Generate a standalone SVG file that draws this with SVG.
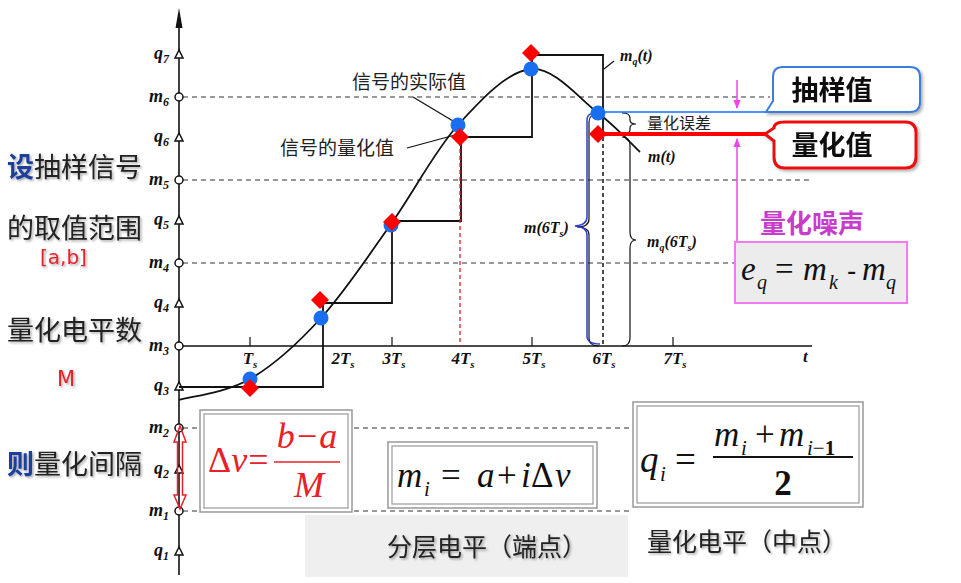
<svg xmlns="http://www.w3.org/2000/svg" width="961" height="583" viewBox="0 0 961 583">
<defs>
<filter id="sh" x="-10%" y="-20%" width="130%" height="160%"><feDropShadow dx="1.5" dy="1.5" stdDeviation="1" flood-color="#000" flood-opacity="0.35"/></filter>
<filter id="bsh" x="-10%" y="-20%" width="130%" height="160%"><feDropShadow dx="2" dy="2" stdDeviation="1.5" flood-color="#000" flood-opacity="0.3"/></filter>
<marker id="pk" viewBox="0 0 10 10" refX="9" refY="5" markerWidth="6" markerHeight="6" orient="auto"><path d="M0,1 L10,5 L0,9 Z" fill="#ee44ee"/></marker>
</defs>
<style>
.ax{stroke:#111;stroke-width:1.6;fill:none}
.dash{stroke:#333;stroke-width:1.2;stroke-dasharray:5 4;fill:none}
.ln{stroke:#111;stroke-width:1.8;fill:none}
.thin{stroke:#111;stroke-width:1.2;fill:none}
.mk{fill:#fff;stroke:#111;stroke-width:1.5}
.al{font-family:"Liberation Serif",serif;font-style:italic;font-weight:bold;font-size:18px;fill:#111}
.tl{font-family:"Liberation Serif",serif;font-style:italic;font-weight:bold;font-size:17px;fill:#111}
.ml{font-family:"Liberation Serif",serif;font-style:italic;font-weight:bold;font-size:16px;fill:#111}
.cn{font-family:"Noto Sans CJK SC",sans-serif;fill:#222}
.big{font-family:"Noto Sans CJK SC",sans-serif;font-size:27px;fill:#222}
.math{font-family:"Liberation Serif",serif;font-style:italic}
.blue{fill:#1a6ef0}
.red{fill:#ff0000}
.frame{fill:#fff;stroke:#999;stroke-width:1.5}
.inner{fill:none;stroke:#999;stroke-width:1.2}
</style>

<!-- left description -->
<g id="left-text" filter="url(#sh)">
<text class="big" x="7" y="177"><tspan fill="#1f3f99" font-weight="bold">设</tspan>抽样信号</text>
<text class="big" x="7" y="238">的取值范围</text>
<text x="40" y="264" font-family="DejaVu Sans,sans-serif" font-size="20" fill="#e8202a">[a,b]</text>
<text class="big" x="7" y="340">量化电平数</text>
<text x="57" y="386" font-family="DejaVu Sans,sans-serif" font-size="21" fill="#e8202a">M</text>
<text class="big" x="7" y="474"><tspan fill="#1f3f99" font-weight="bold">则</tspan>量化间隔</text>
</g>

<!-- gray band -->
<rect x="305" y="515" width="323" height="62" fill="#efefef"/>

<!-- dashed level lines -->
<g id="levels">
<line class="dash" x1="183" y1="97" x2="770" y2="97"/>
<line class="dash" x1="183" y1="180" x2="810" y2="180"/>
<line class="dash" x1="183" y1="263" x2="735" y2="263"/>
<line class="dash" x1="183" y1="428" x2="633" y2="428"/>
<line class="dash" x1="183" y1="511" x2="633" y2="511"/>
</g>

<!-- axes -->
<g id="axes">
<line class="ax" x1="179" y1="575" x2="179" y2="22"/>
<polygon points="179,8 175.5,28 182.5,28" fill="#111"/>
<line class="ax" x1="179" y1="346" x2="812" y2="346"/>
<text x="803" y="362" class="tl" font-weight="normal">t</text>
<g class="thin">
<line x1="250" y1="337" x2="250" y2="346"/>
<line x1="392" y1="337" x2="392" y2="346"/>
<line x1="532" y1="337" x2="532" y2="346"/>
<line x1="673" y1="337" x2="673" y2="346"/>
</g>
<text class="tl" x="250" y="364" text-anchor="middle">T<tspan font-size="11" dy="4">s</tspan></text>
<text class="tl" x="343" y="364" text-anchor="middle">2T<tspan font-size="11" dy="4">s</tspan></text>
<text class="tl" x="394" y="364" text-anchor="middle">3T<tspan font-size="11" dy="4">s</tspan></text>
<text class="tl" x="463" y="364" text-anchor="middle">4T<tspan font-size="11" dy="4">s</tspan></text>
<text class="tl" x="534" y="364" text-anchor="middle">5T<tspan font-size="11" dy="4">s</tspan></text>
<text class="tl" x="604" y="364" text-anchor="middle">6T<tspan font-size="11" dy="4">s</tspan></text>
<text class="tl" x="675" y="364" text-anchor="middle">7T<tspan font-size="11" dy="4">s</tspan></text>
</g>

<!-- axis level markers and labels -->
<g id="axis-marks">
<polygon class="mk" points="179,50 175,58 183,58"/>
<polygon class="mk" points="179,133 175,141 183,141"/>
<polygon class="mk" points="179,216 175,224 183,224"/>
<polygon class="mk" points="179,299 175,307 183,307"/>
<polygon class="mk" points="179,382 175,390 183,390"/>
<polygon class="mk" points="179,465 175,473 183,473"/>
<polygon class="mk" points="179,547 175,555 183,555"/>
<circle class="mk" cx="179" cy="97" r="4"/>
<circle class="mk" cx="179" cy="180" r="4"/>
<circle class="mk" cx="179" cy="263" r="4"/>
<circle class="mk" cx="179" cy="346" r="4"/>
<circle class="mk" cx="179" cy="428" r="4"/>
<circle class="mk" cx="179" cy="511" r="4"/>
<g class="al" text-anchor="end">
<text x="169" y="59">q<tspan font-size="12" dy="4">7</tspan></text>
<text x="169" y="102">m<tspan font-size="12" dy="4">6</tspan></text>
<text x="169" y="142">q<tspan font-size="12" dy="4">6</tspan></text>
<text x="169" y="185">m<tspan font-size="12" dy="4">5</tspan></text>
<text x="169" y="225">q<tspan font-size="12" dy="4">5</tspan></text>
<text x="169" y="268">m<tspan font-size="12" dy="4">4</tspan></text>
<text x="169" y="308">q<tspan font-size="12" dy="4">4</tspan></text>
<text x="169" y="351">m<tspan font-size="12" dy="4">3</tspan></text>
<text x="169" y="391">q<tspan font-size="12" dy="4">3</tspan></text>
<text x="169" y="433">m<tspan font-size="12" dy="4">2</tspan></text>
<text x="169" y="474">q<tspan font-size="12" dy="4">2</tspan></text>
<text x="169" y="516">m<tspan font-size="12" dy="4">1</tspan></text>
<text x="169" y="556">q<tspan font-size="12" dy="4">1</tspan></text>
</g>
</g>

<!-- red double arrow for interval -->
<g id="interval-arrow">
<path d="M180,426 L186,442 L182.5,442 L182.5,495 L186,495 L180,509 L174,495 L177.5,495 L177.5,442 L174,442 Z" fill="none" stroke="#e8202a" stroke-width="1.5"/>
</g>

<!-- signal and staircase -->
<g id="connectors">
<path class="ln" d="M179,400 C190.8,396.5 226.3,392.7 250,379 C273.7,365.3 297.5,343.8 321,318 C344.5,292.2 368.2,256.2 391,224 C413.8,191.8 434.7,150.8 458,125 C481.3,99.2 507.7,71 531,69 C554.3,67 579.8,99.2 598,113 C616.2,126.8 633,145.5 640,152"/>
<path class="ln" d="M179,387 H323 V303 H392 V221 H461 V137 H532 V55 H603 V134"/>
<line x1="603" y1="137" x2="603" y2="346" stroke="#111" stroke-width="1.5" stroke-dasharray="4 3"/>
<line x1="460" y1="142" x2="460" y2="346" stroke="#e02020" stroke-width="1.3" stroke-dasharray="4 3"/>
<line class="thin" x1="604" y1="69" x2="614" y2="61"/>
<line class="thin" x1="413" y1="97" x2="453" y2="121"/>
<line class="thin" x1="407" y1="148" x2="455" y2="135"/>
<!-- braces -->
<path class="thin" d="M599,114 Q589,114 589,122 V219 Q589,227 577,227 Q589,227 589,235 V338 Q589,346 599,346"/>
<path d="M600,112 Q587,112 587,120 V217 Q587,225 575,226 Q587,227 587,235 V336 Q587,344 600,344" fill="none" stroke="#2a3fd0" stroke-width="1.5"/>
<path class="thin" d="M622,113 Q630,113 630,118 V120 Q630,124 636,124 Q630,124 630,128 V130 Q630,134 622,134"/>
<path class="thin" d="M622,137 Q630,137 630,145 V232 Q630,240 636,240 Q630,240 630,248 V338 Q630,346 622,346"/>
<!-- value lines to callouts -->
<line x1="598" y1="112" x2="772" y2="112" stroke="#1a6ef0" stroke-width="1.3"/>
<line x1="598" y1="134" x2="772" y2="134" stroke="#ff0000" stroke-width="4"/>
<!-- magenta arrows -->
<line x1="737" y1="80" x2="737" y2="108" stroke="#ee44ee" stroke-width="1.5" marker-end="url(#pk)"/>
<line x1="737" y1="245" x2="737" y2="139" stroke="#ee44ee" stroke-width="1.5" marker-end="url(#pk)"/>
</g>

<!-- sample points -->
<g id="samples">
<circle class="blue" cx="250" cy="379" r="7.5"/>
<polygon class="red" points="250,379 259,388 250,397 241,388"/>
<circle class="blue" cx="321" cy="318" r="7.5"/>
<polygon class="red" points="320,291 329,300 320,309 311,300"/>
<circle class="blue" cx="391" cy="225" r="7.5"/>
<polygon class="red" points="392,213 401,222 392,231 383,222"/>
<circle class="blue" cx="458" cy="125" r="7.5"/>
<polygon class="red" points="460,128 469,137 460,146 451,137"/>
<polygon class="red" points="531,44 540,53 531,62 522,53"/>
<circle class="blue" cx="531" cy="69" r="7.5"/>
<circle class="blue" cx="598" cy="113" r="7.5"/>
<polygon class="red" points="598,125 607,134 598,143 589,134"/>
</g>

<!-- annotation labels -->
<g id="annotations">
<text class="cn" x="352" y="89" font-size="19">信号的实际值</text>
<text class="cn" x="280" y="155" font-size="19">信号的量化值</text>
<text class="ml" x="620" y="61">m<tspan font-size="10" dy="4">q</tspan><tspan dy="-4">(t)</tspan></text>
<text class="ml" x="648" y="162">m(t)</text>
<text class="cn" x="647" y="129" font-size="16">量化误差</text>
<text class="ml" x="524" y="233">m(6T<tspan font-size="10" dy="4">s</tspan><tspan dy="-4">)</tspan></text>
<text class="ml" x="647" y="247">m<tspan font-size="10" dy="4">q</tspan><tspan dy="-4">(6T</tspan><tspan font-size="10" dy="4">s</tspan><tspan dy="-4">)</tspan></text>
</g>

<!-- callouts -->
<g id="sample-callout" filter="url(#bsh)">
<path d="M783,67 H910 Q920,67 920,77 V102 Q920,112 910,112 H766 L773,101 V77 Q773,67 783,67 Z" fill="#fff" stroke="#3b7ddd" stroke-width="2"/>
<text x="832" y="100" text-anchor="middle" font-family="Noto Sans CJK SC,sans-serif" font-weight="bold" font-size="27" fill="#111">抽样值</text>
</g>
<g id="quant-callout" filter="url(#bsh)">
<path d="M785,122 H905 Q916,122 916,133 V157 Q916,168 905,168 H785 Q774,168 774,157 V141 L765,134 L774,128 Q774,122 785,122 Z" fill="#fff" stroke="#ee1111" stroke-width="3"/>
<text x="832" y="155" text-anchor="middle" font-family="Noto Sans CJK SC,sans-serif" font-weight="bold" font-size="27" fill="#111">量化值</text>
</g>
<g id="noise">
<text x="760" y="233" font-family="Noto Sans CJK SC,sans-serif" font-weight="bold" font-size="26" fill="#c83ccc">量化噪声</text>
<rect x="735" y="242" width="172" height="61" fill="#ececec" stroke="#f07cf0" stroke-width="2"/>
<text class="math" y="280" font-size="33" fill="#111"><tspan x="741">e</tspan><tspan x="757" y="289" font-size="20">q</tspan><tspan x="775" y="280" font-style="normal">=</tspan><tspan x="803">m</tspan><tspan x="829" y="289" font-size="20">k</tspan><tspan x="847" y="280" font-style="normal" font-family="Liberation Sans,sans-serif" font-size="28">-</tspan><tspan x="862">m</tspan><tspan x="886" y="289" font-size="20">q</tspan></text>
</g>

<!-- formula boxes -->
<g id="delta-box">
<rect class="frame" x="200" y="410" width="152" height="102"/>
<rect class="inner" x="204" y="414" width="144" height="94"/>
<text x="208" y="472" font-family="Liberation Serif,serif" font-size="36" fill="#e8202a">Δ<tspan font-style="italic">v</tspan><tspan dx="1">=</tspan></text>
<text class="math" x="307" y="448" text-anchor="middle" font-size="36" fill="#e8202a">b−a</text>
<line x1="274" y1="462" x2="340" y2="462" stroke="#e8202a" stroke-width="1.6"/>
<text class="math" x="309" y="497" text-anchor="middle" font-size="36" fill="#e8202a">M</text>
</g>
<g id="mi-box">
<rect class="frame" x="388" y="442" width="209" height="66"/>
<rect class="inner" x="392" y="446" width="201" height="58"/>
<text class="math" y="487" font-size="35" fill="#111"><tspan x="397">m</tspan><tspan x="424" y="496" font-size="21">i</tspan><tspan x="441" y="487" font-style="normal">=</tspan><tspan x="477">a</tspan><tspan x="497" font-style="normal">+</tspan><tspan x="521">i</tspan><tspan x="531" font-style="normal">Δ</tspan><tspan x="555">v</tspan></text>
</g>
<g id="qi-box">
<rect class="frame" x="633" y="402" width="230" height="105"/>
<rect class="inner" x="637" y="406" width="222" height="97"/>
<text class="math" y="472" font-size="37" fill="#111"><tspan x="640">q</tspan><tspan x="660" y="481" font-size="21">i</tspan><tspan x="675" y="472" font-style="normal">=</tspan></text>
<text class="math" y="446" font-size="35" fill="#111"><tspan x="714">m</tspan><tspan x="741" y="455" font-size="21">i</tspan><tspan x="755" y="446" font-style="normal">+</tspan><tspan x="779">m</tspan><tspan x="807" y="455" font-size="21">i</tspan><tspan font-size="21" font-style="normal">−</tspan><tspan font-size="21" font-style="normal" font-weight="bold">1</tspan></text>
<line x1="713" y1="457" x2="853" y2="457" stroke="#111" stroke-width="2"/>
<text x="783" y="495" text-anchor="middle" font-family="Liberation Serif,serif" font-weight="bold" font-size="35" fill="#111">2</text>
</g>

<!-- bottom captions -->
<g id="captions" filter="url(#sh)">
<text class="cn" x="387" y="556" font-size="25" fill="#333">分层电平（端点）</text>
<text class="cn" x="647" y="551" font-size="25" fill="#333">量化电平（中点）</text>
</g>
</svg>
